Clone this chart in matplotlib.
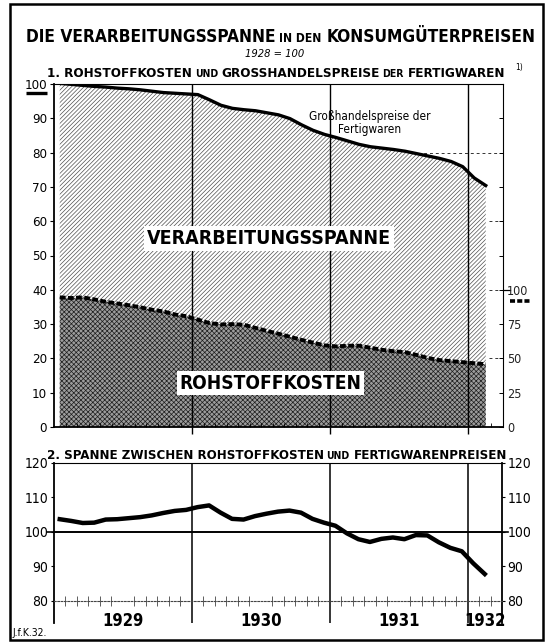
import numpy as np
import matplotlib
matplotlib.use('Agg')
import matplotlib.pyplot as plt
from matplotlib import font_manager
from matplotlib.patches import Rectangle

# monthly values Jan 1929 .. Feb 1932, 1928 = 100
fertigwaren = [100.2, 99.9, 99.6, 99.3, 99.1, 98.8, 98.6, 98.3, 97.9, 97.5, 97.3, 97.1,
               96.9, 95.4, 93.8, 92.9, 92.5, 92.2, 91.6, 91.0, 89.9, 88.1, 86.5, 85.3,
               84.4, 83.4, 82.4, 81.7, 81.3, 80.9, 80.4, 79.7, 79.0, 78.3, 77.4, 75.9,
               72.6, 70.4]
# raw material costs, drawn on the left scale (right scale: x 2.5)
rohstoffe = [37.8, 37.6, 37.8, 37.2, 36.5, 36.0, 35.5, 34.9, 34.2, 33.7, 32.8, 32.3,
             31.3, 30.3, 29.9, 30.0, 29.8, 28.9, 28.0, 27.2, 26.3, 25.4, 24.6, 23.8,
             23.5, 23.7, 23.7, 23.1, 22.5, 22.1, 21.8, 21.0, 20.1, 19.5, 19.2, 18.9,
             18.6, 18.3]
spanne = [103.7, 103.2, 102.6, 102.7, 103.6, 103.7, 104.0, 104.3, 104.8, 105.5, 106.1, 106.4,
          107.2, 107.7, 105.6, 103.8, 103.6, 104.6, 105.3, 105.9, 106.2, 105.6, 103.8, 102.7,
          101.8, 99.6, 97.9, 97.1, 98.0, 98.4, 97.9, 99.1, 99.0, 97.0, 95.4, 94.4,
          90.9, 87.8]
years = ['1929', '1930', '1931', '1932']
right_labels = ['0', '25', '50', '75', '100']

_names = {f.name for f in font_manager.fontManager.ttflist}
FONT = 'Liberation Sans Narrow' if 'Liberation Sans Narrow' in _names else 'DejaVu Sans'
plt.rcParams['font.family'] = FONT
plt.rcParams['font.stretch'] = 'condensed'
plt.rcParams['hatch.linewidth'] = 0.5

W, H = 545, 642
fig = plt.figure(figsize=(W / 100, H / 100), dpi=100)
renderer = fig.canvas.get_renderer()


def box(l, t, r, b):
    return [l / W, 1 - b / H, (r - l) / W, (b - t) / H]


def text_run(parts, x0, x1, y, maxsize, style='normal', weight='bold'):
    # parts of one line with different sizes, fitted between x0 and x1 (pixels)
    texts = [fig.text(0, 1 - y / H, s, fontsize=10 * r, fontweight=weight,
                      fontstyle=style, va='baseline', ha='left') for s, r in parts]
    w = [t.get_window_extent(renderer).width for t in texts]
    gap = 0.3 * 10 * 100 / 72
    total = sum(w) + gap * (len(parts) - 1)
    k = min((x1 - x0) / total, maxsize / 10)
    x = (x0 + x1) / 2 - total * k / 2
    for t, wi, (s, r) in zip(texts, w, parts):
        t.set_fontsize(10 * r * k)
        t.set_x(x / W)
        x += (wi + gap) * k


def fit_label(ax, s, xc, yc, width, maxsize):
    t = ax.text(xc, yc, s, ha='center', va='center', fontsize=10, fontweight='bold',
                bbox=dict(fc='white', ec='none', pad=1.5), zorder=10)
    w = t.get_window_extent(renderer).width
    t.set_fontsize(min(10 * width / w, maxsize))


months = np.arange(len(fertigwaren)) + 0.5
year_bounds = [12, 24, 36]
month_bounds = [m for m in range(1, 39) if m % 12]

# ---- panel 1
ax1 = fig.add_axes(box(54, 84, 503, 427))
ax1.fill_between(months, rohstoffe, fertigwaren, facecolor='white', edgecolor='#505050',
                 hatch='////////', lw=0)
ax1.fill_between(months, 0, rohstoffe, facecolor='#9c9c9c', edgecolor='#1e1e1e',
                 hatch='xxxxxxx', lw=0)
ax1.plot(months, fertigwaren, color='black', lw=2.4, solid_joinstyle='round', zorder=5)
ax1.plot(months, rohstoffe, color='black', lw=2.8, dashes=(1.5, 0.6), zorder=5)
for b in year_bounds:
    ax1.axvline(b, color='black', lw=1.0, zorder=3)

x80 = np.interp(80, fertigwaren[::-1], months[::-1])
ax1.hlines(80, x80, 39, color='#333', lw=0.7, linestyles=(0, (3, 3)))
ax1.hlines([60, 40, 20], months[-1] + 0.3, 39, color='#333', lw=0.7, linestyles=(0, (3, 3)))

ax1.set_xlim(0, 39)
ax1.set_ylim(0, 100)
ax1.set_yticks(range(0, 101, 10))
ax1.tick_params(axis='y', direction='out', length=3, width=0.8, labelsize=9.5, pad=2)
ax1.set_xticks(year_bounds)
ax1.set_xticklabels([])
ax1.tick_params(axis='x', which='major', direction='out', length=5, width=1.0)
ax1.set_xticks(month_bounds, minor=True)
ax1.tick_params(axis='x', which='minor', direction='in', length=3, width=0.6)
for name, sp in ax1.spines.items():
    sp.set_linewidth(1.3 if name in ('left', 'bottom') else 0.8)

axr = ax1.twinx()
axr.set_ylim(0, 250)
axr.set_yticks(np.arange(0, 250, 25))
axr.set_yticklabels(right_labels + [''] * 5)
axr.tick_params(axis='y', direction='in', length=3, width=0.7, labelsize=9,
                labelcolor='#222', pad=3)
for sp in axr.spines.values():
    sp.set_visible(False)

yt = ax1.get_yaxis_transform()
ax1.plot([-0.062, -0.016], [97.3, 97.3], transform=yt, clip_on=False, color='black',
         lw=2.4, solid_capstyle='butt')
ax1.plot([1.0, 1.016], [40, 40], transform=yt, clip_on=False, color='black', lw=0.9)
ax1.plot([1.016, 1.062], [36.6, 36.6], transform=yt, clip_on=False, color='black',
         lw=2.6, dashes=(1.4, 0.6))

ax1.text(27.4, 88.6, 'Großhandelspreise der\nFertigwaren', ha='center', va='center',
         fontsize=8.5, linespacing=1.05, zorder=6)
fit_label(ax1, 'VERARBEITUNGSSPANNE', 18.7, 55, 247, 14)
fit_label(ax1, 'ROHSTOFFKOSTEN', 18.8, 12.8, 180, 14)

# ---- panel 2
ax2 = fig.add_axes(box(54, 463, 502, 623))
ax2.plot(months, spanne, color='black', lw=3.2, solid_joinstyle='round', zorder=5)
ax2.axhline(100, color='black', lw=1.2)
yt2 = ax2.get_yaxis_transform()
ax2.plot([-0.016, 1.014], [100, 100], transform=yt2, clip_on=False, color='black', lw=1.2)
for b in year_bounds:
    ax2.axvline(b, color='black', lw=1.1)
ax2.set_xlim(0, 39)
ax2.set_ylim(73.6, 120)
ax2.spines['bottom'].set_position(('data', 80))
ax2.spines['bottom'].set_linestyle((0, (1.5, 1.5)))
ax2.spines['bottom'].set_linewidth(0.8)
ax2.spines['bottom'].set_color('#444')
for name in ('left', 'right'):
    ax2.spines[name].set_linewidth(1.3)
ax2.spines['top'].set_linewidth(0.8)
ax2.set_yticks([80, 90, 100, 110, 120])
ax2.tick_params(axis='y', left=True, right=True, labelleft=True, labelright=True,
                direction='out', length=2, width=0.8, labelsize=10, pad=2)
ax2.set_xticks([6, 18, 30, 37.5])
ax2.set_xticklabels(years, fontweight='bold', fontsize=12)
ax2.tick_params(axis='x', which='major', length=0, pad=8)
ax2.set_xticks(month_bounds, minor=True)
ax2.tick_params(axis='x', which='minor', direction='inout', length=7, width=0.6,
                color='#444')

# ---- titles and frame
text_run([('DIE VERARBEITUNGSSPANNE', 1), ('IN DEN', 0.7), ('KONSUMGÜTERPREISEN', 1)],
         26, 534, 42, 14)
text_run([('1928 = 100', 1)], 245, 305, 57, 9.5, style='italic', weight='normal')
text_run([('1. ROHSTOFFKOSTEN', 1), ('UND', 0.78), ('GROSSHANDELSPREISE', 1),
          ('DER', 0.78), ('FERTIGWAREN', 1)], 47, 504, 77, 11.5)
text_run([('2. SPANNE ZWISCHEN ROHSTOFFKOSTEN', 1), ('UND', 0.78),
          ('FERTIGWARENPREISEN', 1)], 47, 506, 459, 11.5)
fig.text(515 / W, 1 - 70 / H, '1)', fontsize=6, va='baseline')
fig.text(13 / W, 1 - 636 / H, 'J.f.K.32.', fontsize=7.5, va='baseline')

fig.add_artist(Rectangle((10 / W, 1 - 640 / H), 533 / W, 636 / H, transform=fig.transFigure,
                         fill=False, lw=1.8, color='black'))

fig.savefig('out.png', dpi=100)
